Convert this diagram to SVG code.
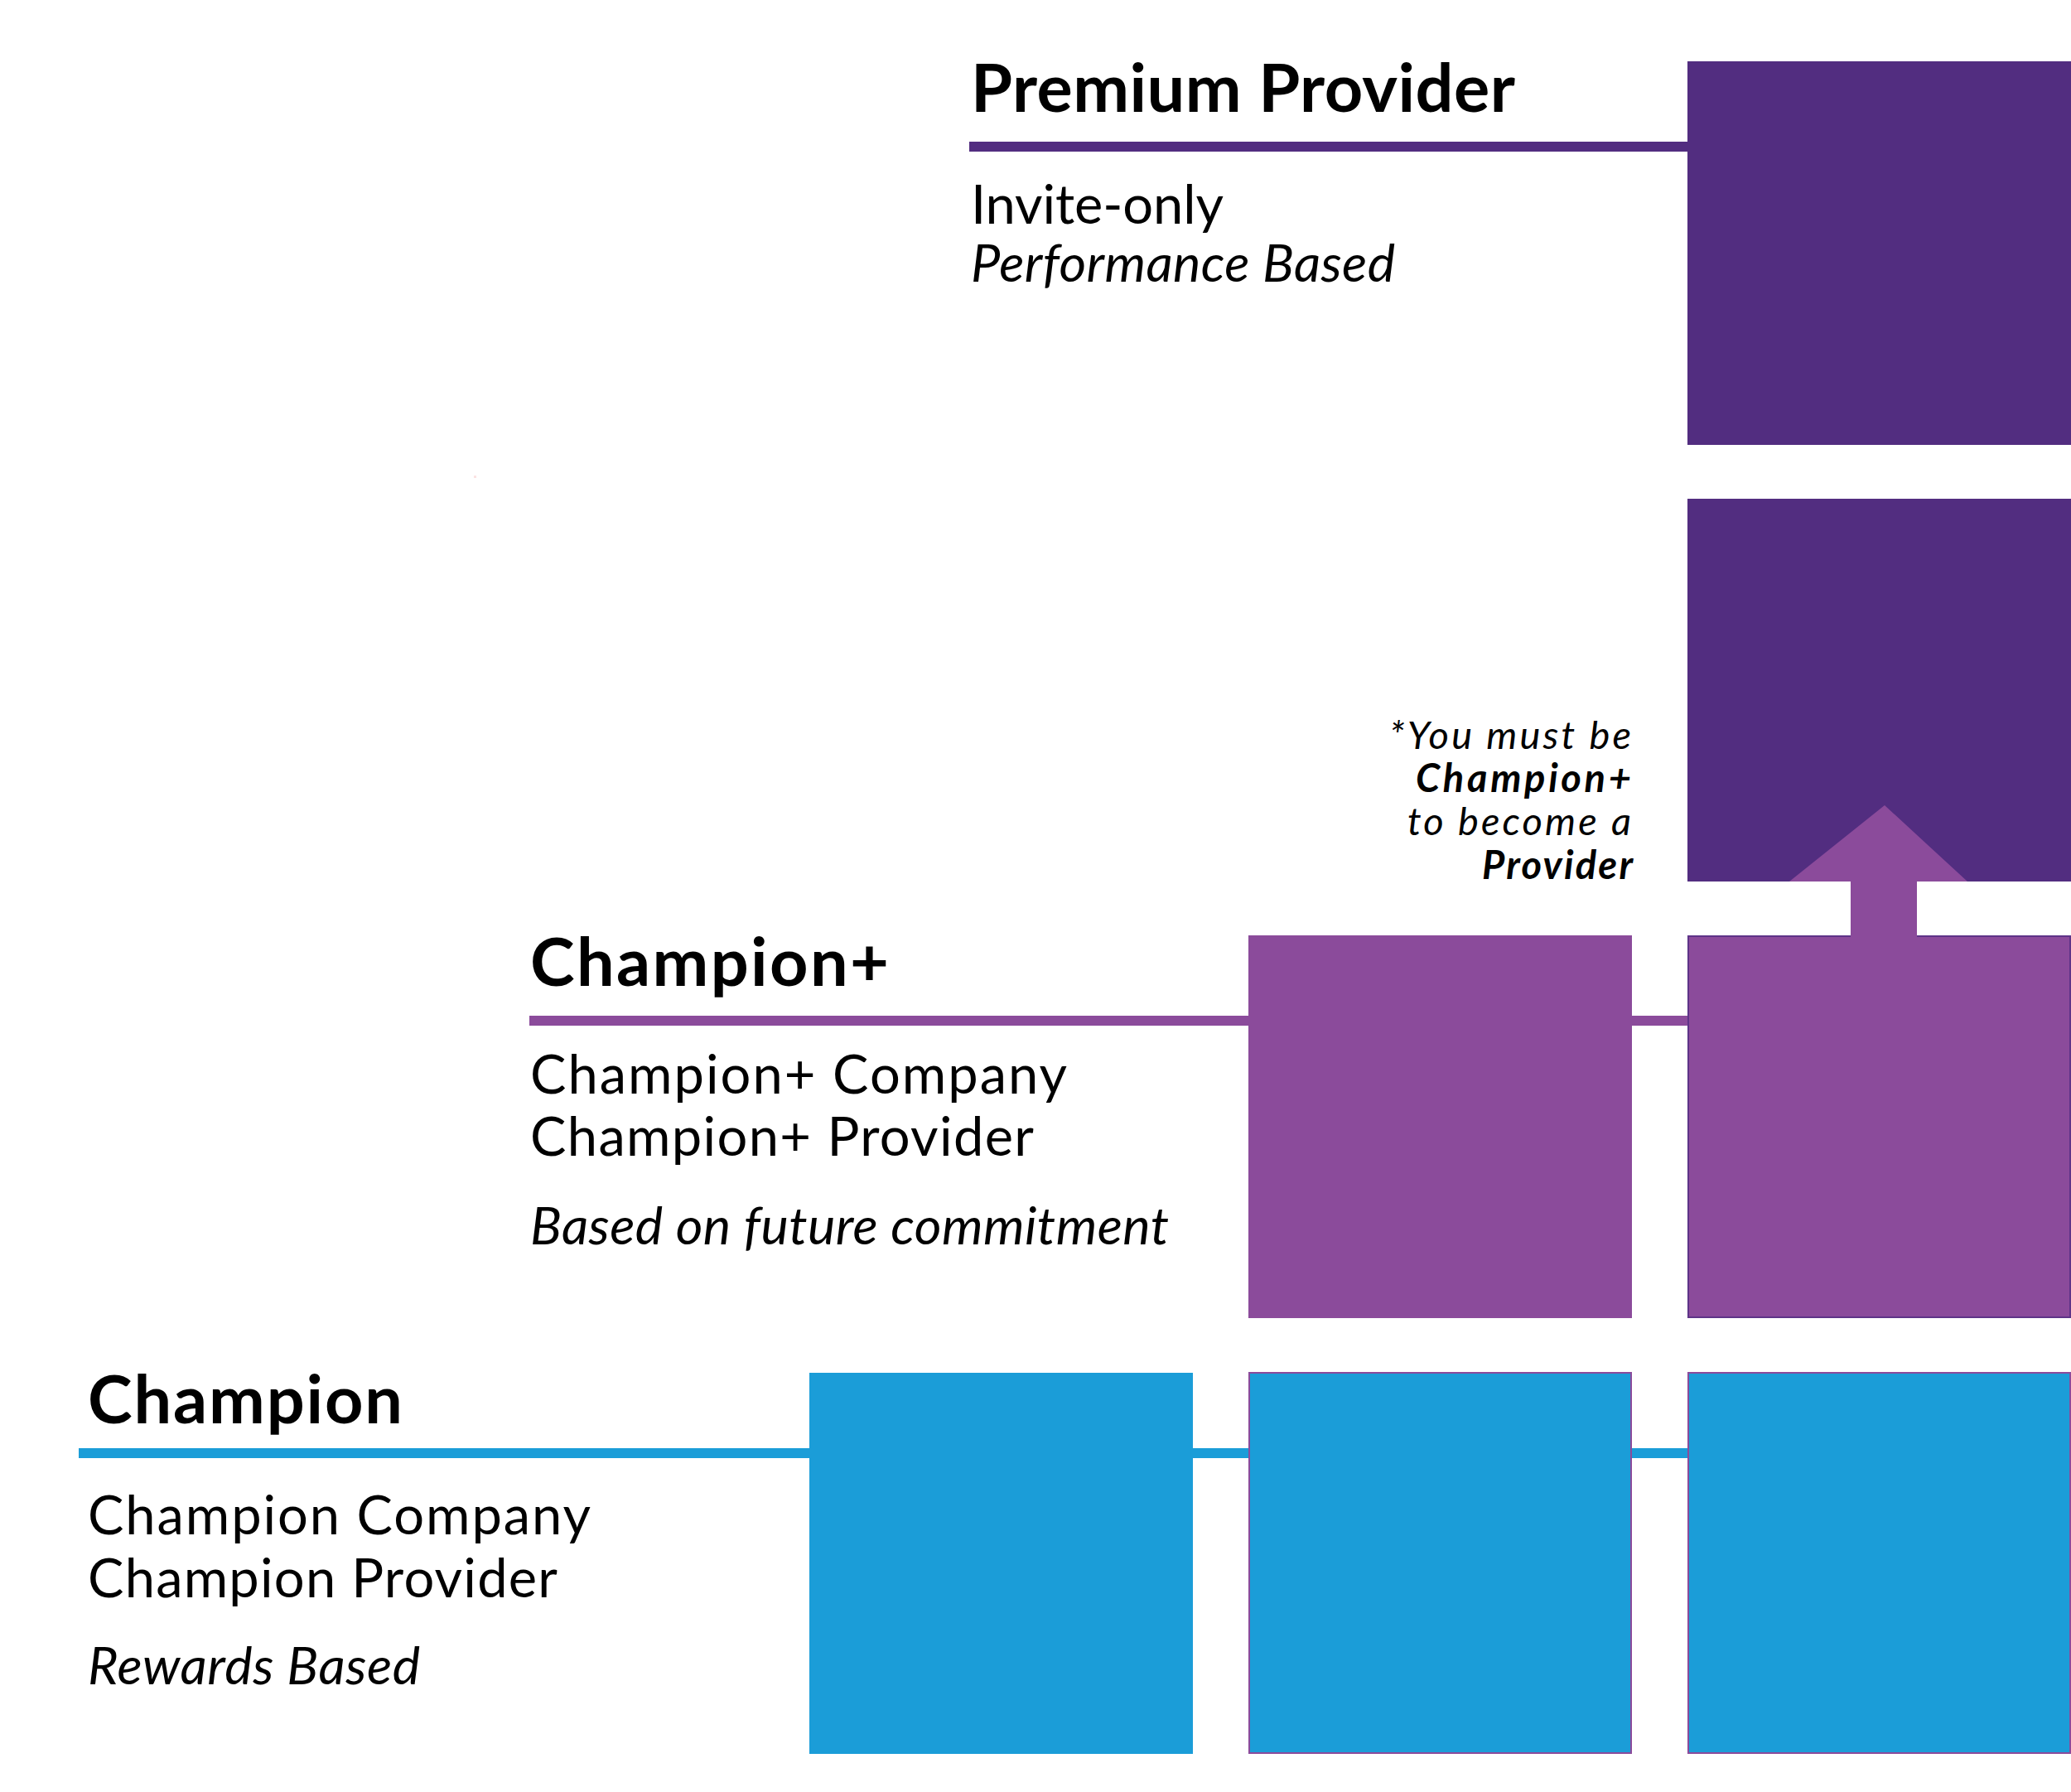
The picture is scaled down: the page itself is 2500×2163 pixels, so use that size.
<svg xmlns="http://www.w3.org/2000/svg" width="2500" height="2163" viewBox="0 0 2500 2163">
<style>
.t{font-family:Lato,"Noto Sans",sans-serif;fill:#000}
.h{font-weight:700;font-size:81px}
.b{font-size:65px}
.i{font-style:italic;font-size:63px}
.n{font-style:italic;font-size:47px;text-anchor:end}
.dk{fill:#522D80}
.md{fill:#8B4B9B}
.bl{fill:#1B9DD8}
.so{stroke:#8B4B9B;stroke-width:2}
.sd{stroke:#5E3488;stroke-width:2}
</style>
<rect width="2500" height="2163" fill="#fff"/>
<g id="connectors">
<rect class="dk" x="1170" y="171" width="870" height="12"/>
<rect class="md" x="639" y="1226" width="1400" height="12"/>
<rect class="bl" x="95" y="1748" width="1945" height="12"/>
</g>
<g id="premium-provider">
<rect class="dk" x="2037" y="74" width="463" height="463"/>
<rect class="dk" x="2037" y="602" width="463" height="462"/>
<text class="t h" x="1172" y="135" textLength="657">Premium Provider</text>
<text class="t b" x="1172" y="270" textLength="305">Invite-only</text>
<text class="t i" x="1172" y="340" textLength="512">Performance Based</text>
</g>
<g id="note">
<text class="t n" x="1969" y="904" textLength="292">*You must be</text>
<text class="t n" x="1969" y="956" font-weight="700" textLength="260">Champion+</text>
<text class="t n" x="1969" y="1008" textLength="270">to become a</text>
<text class="t n" x="1971" y="1061" font-weight="700" textLength="182">Provider</text>
</g>
<g id="champion-plus">
<rect class="md" x="1507" y="1129" width="463" height="462"/>
<rect class="md sd" x="2038" y="1130" width="461" height="460"/>
<polygon class="md" points="2234,1131 2234,1064 2160,1064 2275,972 2375,1064 2314,1064 2314,1131"/>
<text class="t h" x="640" y="1190" textLength="433">Champion+</text>
<text class="t b" x="640" y="1320" textLength="648">Champion+ Company</text>
<text class="t b" x="640" y="1395" textLength="608">Champion+ Provider</text>
<text class="t i" x="640" y="1502" textLength="771">Based on future commitment</text>
</g>
<g id="champion">
<rect class="bl" x="977" y="1657" width="463" height="460"/>
<rect class="bl so" x="1508" y="1657" width="461" height="459"/>
<rect class="bl so" x="2038" y="1657" width="461" height="459"/>
<text class="t h" x="106" y="1718" textLength="380">Champion</text>
<text class="t b" x="106" y="1852" textLength="607">Champion Company</text>
<text class="t b" x="106" y="1928" textLength="567">Champion Provider</text>
<text class="t i" x="106" y="2033" textLength="401">Rewards Based</text>
</g>
<rect x="572" y="574" width="3" height="3" fill="#fbe3e3"/>
</svg>
